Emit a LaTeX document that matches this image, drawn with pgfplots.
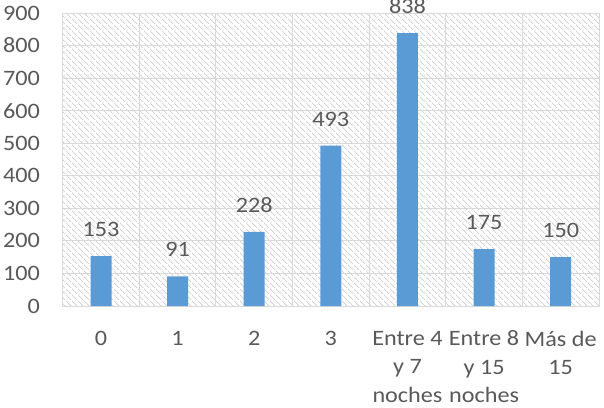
\documentclass[border=0pt]{standalone}
\usepackage{fontspec}
\setmainfont{Carlito}[FakeStretch=1.1]
\usepackage{pgfplots}
\pgfplotsset{compat=1.18}
\usetikzlibrary{patterns.meta}

\definecolor{barblue}{HTML}{5B9BD5}
\definecolor{txtgray}{HTML}{595959}
\definecolor{gridgray}{HTML}{D9D9D9}
\definecolor{hatchgray}{HTML}{CFCFCF}

% wide downward diagonal hatch for the plot area
\tikzdeclarepattern{
  name=widehatch,
  type=uncolored,
  bottom left={(0bp,0bp)},
  top right={(6bp,6bp)},
  tile size={(6bp,6bp)},
  code={
    \draw[line width=0.8bp] (-1bp,7bp) -- (7bp,-1bp);
  }
}

\begin{document}
\begin{tikzpicture}
\begin{axis}[
  scale only axis,
  width=536.3bp, height=293bp,
  ybar, bar width=21bp,
  xmin=-0.5, xmax=6.5,
  ymin=0, ymax=900,
  ytick={0,100,...,900},
  xtick={0,...,6},
  minor xtick={0.5,1.5,...,5.5},
  xticklabels={0,1,2,3,{Entre 4\\y 7\\noches},{Entre 8\\y 15\\noches},{Más de\\15}},
  ymajorgrids=true, xminorgrids=true, xmajorgrids=false,
  grid style={gridgray, line width=0.9bp},
  minor grid style={gridgray, line width=0.9bp},
  axis line style={gridgray, line width=0.9bp},
  tick style={draw=none},
  minor tick style={draw=none},
  axis background/.style={pattern=widehatch, pattern color=hatchgray},
  /pgf/number format/assume math mode=true,
  ticklabel style={font=\fontsize{22bp}{28.5bp}\selectfont, text=txtgray},
  xticklabel style={anchor=north, inner sep=0pt, yshift=-20.5bp, align=center},
  yticklabel style={anchor=east, inner sep=0pt, xshift=-22.7bp},
  nodes near coords,
  every node near coord/.append style={font=\fontsize{22bp}{26bp}\selectfont, text=txtgray, anchor=base, inner sep=0pt, yshift=19.5bp},
]
\addplot[fill=barblue, draw=none] coordinates {
  (0,153) (1,91) (2,228) (3,493) (4,838) (5,175) (6,150)
};
\coordinate (SW) at (rel axis cs:0,0);
\end{axis}
\pgfresetboundingbox
\path[use as bounding box] ([shift={(-62.7bp,-102bp)}]SW) rectangle ++(604bp,408bp);
\end{tikzpicture}
\end{document}
